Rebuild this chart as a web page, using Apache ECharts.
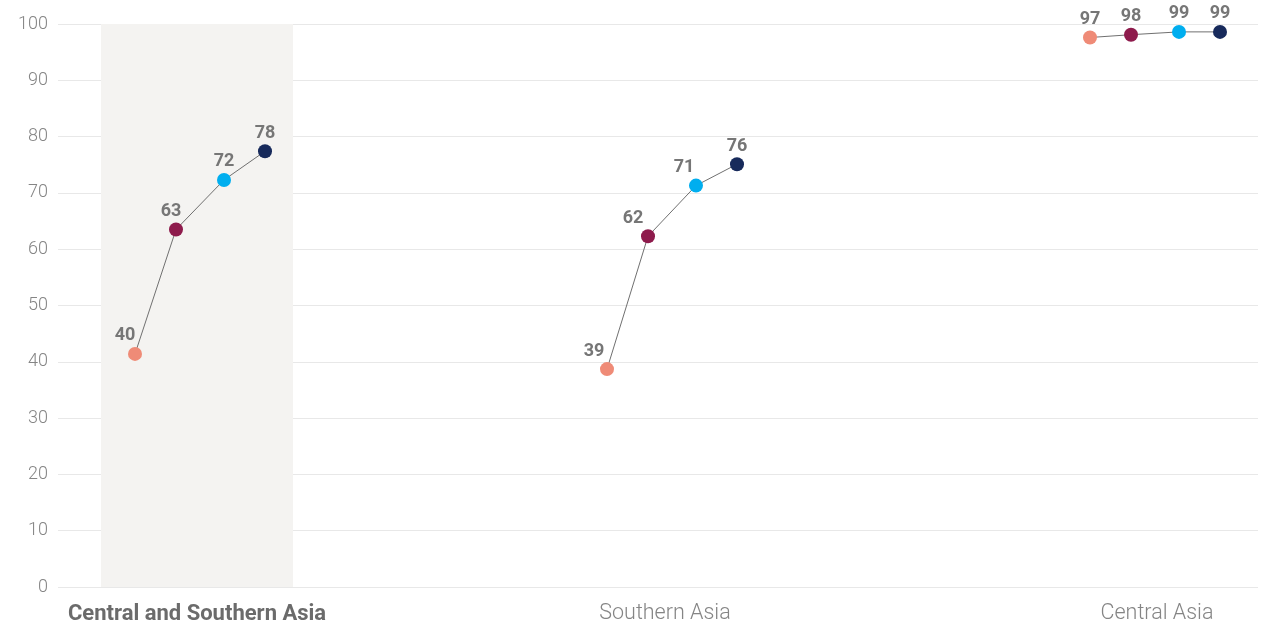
<!DOCTYPE html>
<html>
<head>
<meta charset="utf-8">
<script src="https://cdn.jsdelivr.net/npm/echarts@6/dist/echarts.min.js"></script>
<style>
html,body{margin:0;padding:0;background:#fff;}
#chart{width:1261px;height:626px;}
</style>
</head>
<body>
<div id="chart"></div>
<script>
// ---- data ----
const groups = ['Central and Southern Asia', 'Southern Asia', 'Central Asia'];
const groupCenters = [142, 614, 1097];      // x position of each group (axis units)
const labelCenters = [139, 607, 1099];      // x position of group name labels (axis units)
const seriesOffsets = [-65, -24, 24, 65];   // offset of the four points within a group
const valuesCSA = [41.4, 63.5, 72.3, 77.4];
const valuesSA = [38.7, 62.3, 71.3, 75.1];
const valuesCA = [97.6, 98.1, 98.6, 98.6];
const labelsCSA = ['40', '63', '72', '78'];
const labelsSA = ['39', '62', '71', '76'];
const labelsCA = ['97', '98', '99', '99'];
const yTicks = [0, 10, 20, 30, 40, 50, 60, 70, 80, 90, 100];

// ---- styles ----
const pointColors = ['#ef8b77', '#8e1b4c', '#00aeef', '#172a5b'];
const labelDx = [[-10, -5, 0, 0], [-13, -15, -12, 0], [0, 0, 0, 0]];
const FONT = 'Roboto, "Liberation Sans", sans-serif';

const allValues = [valuesCSA, valuesSA, valuesCA];
const allLabels = [labelsCSA, labelsSA, labelsCA];

const series = allValues.map((vals, g) => ({
  type: 'line',
  symbol: 'circle',
  symbolSize: 14,
  lineStyle: { color: '#707070', width: 1 },
  z: 3,
  data: vals.map((v, i) => ({
    value: [groupCenters[g] + seriesOffsets[i], v],
    itemStyle: { color: pointColors[i] },
    label: {
      show: true,
      position: 'top',
      distance: 2,
      offset: [labelDx[g][i], 0],
      formatter: allLabels[g][i],
      color: '#767676',
      fontWeight: 'bold',
      fontSize: 18,
      fontFamily: FONT
    }
  })),
  markArea: g === 0 ? {
    silent: true,
    itemStyle: { color: '#f4f3f1' },
    data: [[{ xAxis: labelCenters[0] - 96 }, { xAxis: labelCenters[0] + 96 }]]
  } : undefined
}));

const chart = echarts.init(document.getElementById('chart'));
chart.setOption({
  animation: false,
  backgroundColor: '#ffffff',
  grid: { left: 58, right: 3, top: 24, bottom: 39, containLabel: false },
  xAxis: {
    type: 'value',
    min: 0,
    max: 1200,
    axisLine: { show: false },
    axisTick: { show: false },
    splitLine: { show: false },
    axisLabel: {
      customValues: labelCenters,
      margin: 16,
      formatter: function (v) {
        const idx = labelCenters.indexOf(v);
        if (idx < 0) return '';
        return idx === 0 ? '{b|' + groups[idx] + '}' : '{n|' + groups[idx] + '}';
      },
      rich: {
        b: { fontSize: 22, fontWeight: 'bold', color: '#6b6b6b', fontFamily: FONT },
        n: { fontSize: 21.5, fontWeight: 300, color: '#858585', fontFamily: FONT }
      }
    }
  },
  yAxis: {
    type: 'value',
    min: yTicks[0],
    max: yTicks[yTicks.length - 1],
    interval: yTicks[1] - yTicks[0],
    axisLine: { show: false },
    axisTick: { show: false },
    splitLine: { lineStyle: { color: '#e8e8e8', width: 1 } },
    axisLabel: {
      margin: 10,
      fontSize: 18,
      fontWeight: 300,
      color: '#858585',
      fontFamily: FONT,
      padding: [0, 0, 5, 0]
    }
  },
  series: series
});
</script>
</body>
</html>
